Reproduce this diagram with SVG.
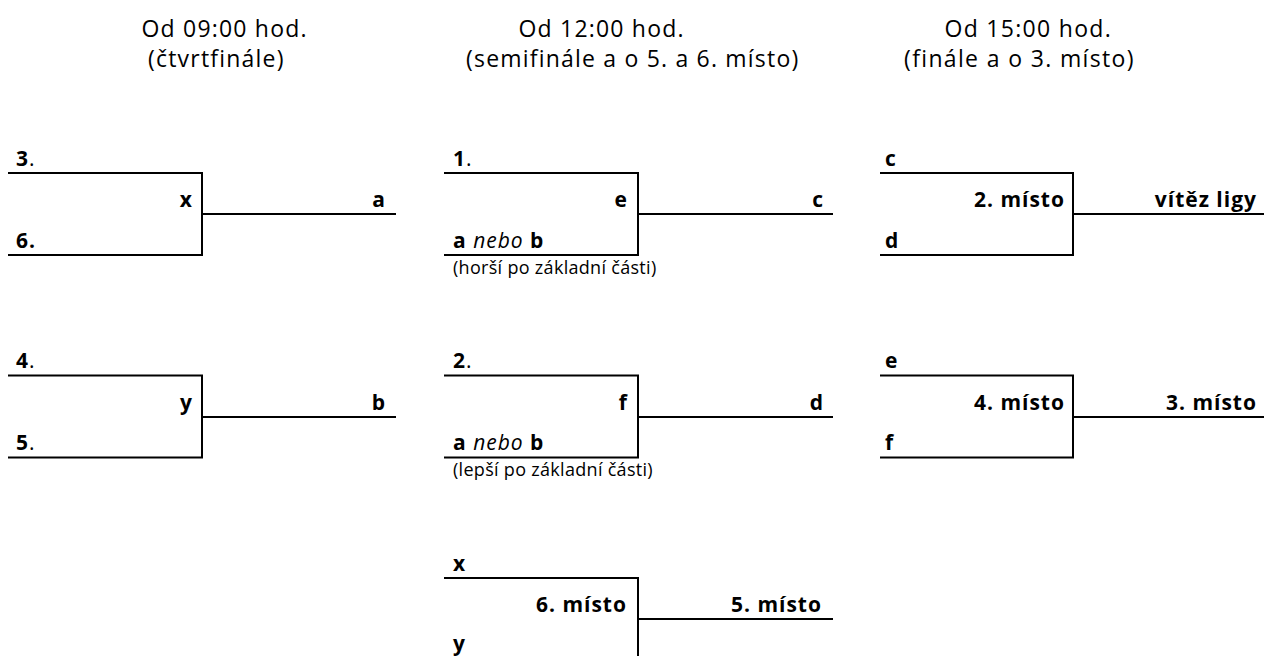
<svg xmlns="http://www.w3.org/2000/svg" width="1264" height="656" viewBox="0 0 1264 656">
<style>
.ln{fill:none;stroke:#000;stroke-width:2}
text{font-family:"Open Sans","Noto Sans","Liberation Sans",sans-serif;fill:#000}
.h{font-size:23px;letter-spacing:1.2px}
.b{font-size:21px;font-weight:bold;letter-spacing:1px}
.r{text-anchor:end}
.n{font-weight:normal}
.i{font-style:italic;font-weight:normal}
.s{font-size:18px;letter-spacing:0.3px}
</style>
<rect width="1264" height="656" fill="#fff"/>
<g id="headers">
<text class="h" x="141.5" y="37">Od 09:00 hod.</text>
<text class="h" x="148" y="67">(čtvrtfinále)</text>
<text class="h" x="518.5" y="37">Od 12:00 hod.</text>
<text class="h" x="466" y="67">(semifinále a o 5. a 6. místo)</text>
<text class="h" x="944.5" y="37" style="letter-spacing:1.3px">Od 15:00 hod.</text>
<text class="h" x="904" y="67" style="letter-spacing:1.35px">(finále a o 3. místo)</text>
</g>
<g id="connectors">
<path class="ln" d="M202,214H396"/>
<path class="ln" d="M202,417H396"/>
<path class="ln" d="M638,214H833"/>
<path class="ln" d="M638,417H833"/>
<path class="ln" d="M638,619H833"/>
<path class="ln" d="M1073,214H1264"/>
<path class="ln" d="M1073,417H1264"/>
</g>
<g id="qf1">
<path class="ln" d="M8,173H202V255H8"/>
<text class="b" x="16" y="166">3<tspan class="n">.</tspan></text>
<text class="b r" x="193" y="207">x</text>
<text class="b" x="16" y="248">6.</text>
<text class="b r" x="386" y="207">a</text>
</g>
<g id="qf2">
<path class="ln" d="M8,375.5H202V457.5H8"/>
<text class="b" x="16" y="368">4<tspan class="n">.</tspan></text>
<text class="b r" x="193" y="410">y</text>
<text class="b" x="16" y="450">5<tspan class="n">.</tspan></text>
<text class="b r" x="386" y="410">b</text>
</g>
<g id="sf1">
<path class="ln" d="M444,173H638V255H444"/>
<text class="b" x="453" y="166">1<tspan class="n">.</tspan></text>
<text class="b r" x="628" y="207">e</text>
<text class="b" x="453" y="248">a <tspan class="i">nebo</tspan> b</text>
<text class="s" x="453" y="274">(horší po základní části)</text>
<text class="b r" x="824" y="207">c</text>
</g>
<g id="sf2">
<path class="ln" d="M444,375.5H638V457.5H444"/>
<text class="b" x="453" y="368">2<tspan class="n">.</tspan></text>
<text class="b r" x="628" y="410">f</text>
<text class="b" x="453" y="450">a <tspan class="i">nebo</tspan> b</text>
<text class="s" x="453" y="476">(lepší po základní části)</text>
<text class="b r" x="824" y="410">d</text>
</g>
<g id="p56">
<path class="ln" d="M444,578H638V662H444"/>
<text class="b" x="453" y="571">x</text>
<text class="b r" x="627" y="612">6. místo</text>
<text class="b" x="453" y="651">y</text>
<text class="b r" x="822" y="612">5. místo</text>
</g>
<g id="final">
<path class="ln" d="M880,173H1073V255H880"/>
<text class="b" x="885" y="166">c</text>
<text class="b r" x="1065" y="207">2. místo</text>
<text class="b" x="885" y="248">d</text>
<text class="b r" x="1257" y="207">vítěz ligy</text>
</g>
<g id="p34">
<path class="ln" d="M880,375.5H1073V457.5H880"/>
<text class="b" x="885" y="368">e</text>
<text class="b r" x="1065" y="410">4. místo</text>
<text class="b" x="885" y="450">f</text>
<text class="b r" x="1257" y="410">3. místo</text>
</g>
</svg>
